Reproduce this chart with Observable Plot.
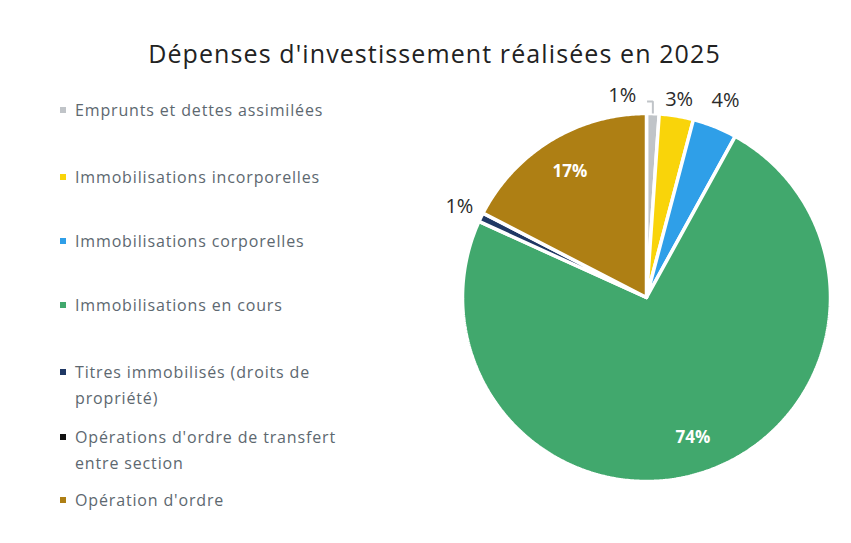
<!DOCTYPE html>
<html><head><meta charset="utf-8">
<script src="https://cdn.jsdelivr.net/npm/d3@7"></script>
<script src="https://cdn.jsdelivr.net/npm/@observablehq/plot@0.6"></script>
<style>
body{margin:0;background:#fff;}
#wrap{position:relative;width:851px;height:543px;overflow:hidden;background:#fff;}
#wrap svg{position:absolute;left:0;top:0;}
#title{position:absolute;left:18px;width:833px;top:36px;text-align:center;font:25px "Open Sans",sans-serif;letter-spacing:1.1px;color:#222;line-height:34px;}
.item{position:absolute;left:58px;width:275px;font:16px "Open Sans",sans-serif;letter-spacing:0.85px;color:#5d6870;line-height:26px;padding-left:17px;}
.sw{position:absolute;left:2px;top:10px;width:6px;height:6px;}
</style></head>
<body>
<div id="wrap"><div id="title">Dépenses d'investissement réalisées en 2025</div></div>
<script>
const categories = [
  "Emprunts et dettes assimilées",
  "Immobilisations incorporelles",
  "Immobilisations corporelles",
  "Immobilisations en cours",
  "Titres immobilisés (droits de propriété)",
  "Opérations d'ordre de transfert entre section",
  "Opération d'ordre"
];
const values = [1.1, 3.0, 3.9, 73.7, 0.8, 0.0, 17.4];
const colors = ["#c0c4c8", "#f9d40a", "#2f9fe8", "#41a86d", "#1f3864", "#111111", "#ae7f14"];
const legendTops = [97, 164, 228, 292, 359, 424, 487];

const rows = categories.map((c, i) => ({cat: c, value: values[i]}));
const total = d3.sum(values);
const arcs = d3.pie().sort(null).value(d => d.value)(rows);

// slice polygons in unit coordinates (angle 0 at 12 o'clock, clockwise)
const poly = [];
arcs.forEach(a => {
  if (a.data.value <= 0) return;
  poly.push({cat: a.data.cat, x: 0, y: 0});
  const n = Math.max(2, Math.ceil((a.endAngle - a.startAngle) / 0.01));
  for (let k = 0; k <= n; k++) {
    const t = a.startAngle + (a.endAngle - a.startAngle) * k / n;
    poly.push({cat: a.data.cat, x: Math.sin(t), y: Math.cos(t)});
  }
  poly.push({cat: a.data.cat, x: 0, y: 0});
});

// labels
const labels = [];
arcs.forEach((a, i) => {
  if (a.data.value <= 0) return;
  const pct = Math.round(a.data.value / total * 100);
  const mid = (a.startAngle + a.endAngle) / 2;
  const inside = pct > 10;
  const r = inside ? 0.8 : (i === 0 ? 1.1 : (i === 1 ? 1.09 : (i === 2 ? 1.155 : 1.13)));
  let x = r * Math.sin(mid), y = r * Math.cos(mid);
  if (i === 0) x -= 0.17;
  labels.push({text: pct + "%", x, y, inside});
});
const g = arcs[0], gm = (g.startAngle + g.endAngle) / 2;
const leader = [
  {x: Math.sin(gm), y: Math.cos(gm)},
  {x: Math.sin(gm), y: 1.065},
  {x: labels[0].x + 0.135, y: 1.065}
];

const plot = Plot.plot({
  width: 851, height: 543, margin: 0,
  x: {domain: [-1, 1], range: [462, 830], axis: null},
  y: {domain: [-1, 1], range: [481, 113], axis: null},
  color: {domain: categories, range: colors},
  marks: [
    Plot.line(poly, {x: "x", y: "y", z: "cat", fill: "cat", stroke: "white", strokeWidth: 3.5, strokeLinejoin: "miter", curve: "linear"}),
    Plot.line(leader, {x: "x", y: "y", stroke: "#c0c4c8", strokeWidth: 2, strokeLinejoin: "miter", strokeLinecap: "butt"}),
    Plot.text(labels.filter(d => !d.inside), {x: "x", y: "y", text: "text", fill: "#2a2a2a", fontSize: 20, fontFamily: "Open Sans"}),
    Plot.text(labels.filter(d => d.inside), {x: "x", y: "y", text: "text", fill: "white", fontSize: 17, fontWeight: "bold", fontFamily: "Open Sans"})
  ]
});
const wrap = document.getElementById("wrap");
wrap.insertBefore(plot, wrap.firstChild);

const color = plot.scale("color");
categories.forEach((c, i) => {
  const d = document.createElement("div");
  d.className = "item";
  d.style.top = legendTops[i] + "px";
  const s = document.createElement("span");
  s.className = "sw";
  s.style.background = color.apply(c);
  d.appendChild(s);
  d.appendChild(document.createTextNode(c));
  wrap.appendChild(d);
});
</script>
</body></html>
